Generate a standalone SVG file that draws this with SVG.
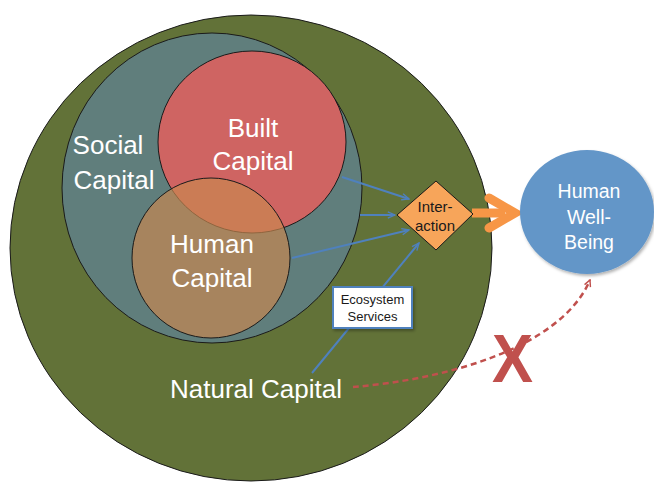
<svg xmlns="http://www.w3.org/2000/svg" width="654" height="483" viewBox="0 0 654 483">
<defs>
<style>
.cap{fill:#ffffff;font-family:"Liberation Sans",Arial,sans-serif;font-size:26px;text-anchor:middle}
.blue{stroke:#4f81bd;stroke-width:2;fill:none;marker-end:url(#ab)}
.small{fill:#1a1a1a;font-family:"Liberation Sans",Arial,sans-serif;text-anchor:middle}
.wb{fill:#ffffff;font-family:"Liberation Sans",Arial,sans-serif;font-size:19.5px;text-anchor:middle}
</style>
<marker id="ab" viewBox="0 0 10 10" refX="9" refY="5" markerWidth="9" markerHeight="9" orient="auto" markerUnits="userSpaceOnUse">
<path d="M1,1.5 L9,5 L1,8.5" fill="none" stroke="#4f81bd" stroke-width="1.5"/>
</marker>
<marker id="ar" viewBox="0 0 10 10" refX="9" refY="5" markerWidth="8" markerHeight="8" orient="auto" markerUnits="userSpaceOnUse">
<path d="M1,1 L9,5 L1,9" fill="none" stroke="#c0504d" stroke-width="1.8"/>
</marker>
<filter id="sh" x="-20%" y="-20%" width="140%" height="140%">
<feDropShadow dx="1.5" dy="2" stdDeviation="1.5" flood-color="#000" flood-opacity="0.3"/>
</filter>
</defs>
<g id="natural-capital">
<ellipse cx="251" cy="248" rx="241" ry="233" fill="#627238" stroke="#1a1a1a" stroke-width="1"/>
</g>
<g id="social-capital">
<ellipse cx="212" cy="188" rx="150" ry="155" fill="#607e7c" stroke="#1a1a1a" stroke-width="1"/>
<text class="cap" x="108" y="154">Social</text>
<text class="cap" x="114" y="189">Capital</text>
</g>
<g id="built-capital">
<ellipse cx="252" cy="142" rx="94" ry="91" fill="#cf6462" stroke="#1a1a1a" stroke-width="1"/>
<text class="cap" x="253" y="137">Built</text>
<text class="cap" x="253" y="170">Capital</text>
</g>
<g id="human-capital">
<ellipse cx="211" cy="258" rx="79" ry="80" fill="#c88750" fill-opacity="0.68" stroke="#1a1a1a" stroke-width="1"/>
<text class="cap" x="212" y="253">Human</text>
<text class="cap" x="212" y="287">Capital</text>
</g>
<g id="connectors">
<line class="blue" x1="342" y1="177" x2="409" y2="199"/>
<line class="blue" x1="360" y1="215" x2="395" y2="215"/>
<line class="blue" x1="292" y1="258" x2="409" y2="230"/>
<line class="blue" x1="312" y1="373" x2="419" y2="243"/>
<line x1="472" y1="213" x2="505" y2="213" stroke="#f79646" stroke-width="9"/>
<polyline points="489,198 515,213 489,228" fill="none" stroke="#f79646" stroke-width="9" stroke-linecap="round" stroke-linejoin="miter"/>
<path d="M353,387 C440,380 560,350 590,280" fill="none" stroke="#c0504d" stroke-width="2.5" stroke-dasharray="6,4" marker-end="url(#ar)"/>
</g>
<g id="interaction">
<polygon points="397,215 436,181 473,214 436,250" fill="#f7a55a" stroke="#1a1a1a" stroke-width="1"/>
<text class="small" x="435" y="212" font-size="15">Inter-</text>
<text class="small" x="435" y="231" font-size="15">action</text>
</g>
<g id="ecosystem-services">
<rect x="333" y="287" width="79" height="41" fill="#ffffff" stroke="#4f81bd" stroke-width="2" filter="url(#sh)"/>
<text class="small" x="372.5" y="304" font-size="13">Ecosystem</text>
<text class="small" x="372.5" y="321" font-size="13">Services</text>
</g>
<g id="human-well-being">
<ellipse cx="587" cy="212" rx="67" ry="62" fill="#6496c8" filter="url(#sh)"/>
<text class="wb" x="589" y="198">Human</text>
<text class="wb" x="589" y="224">Well-</text>
<text class="wb" x="589" y="249">Being</text>
</g>
<g id="natural-capital-label">
<text class="cap" x="256" y="398">Natural Capital</text>
</g>
<g id="no-link">
<text x="492" y="382" fill="#c0504d" font-family="'Liberation Sans',Arial,sans-serif" font-weight="bold" font-size="68" textLength="41" lengthAdjust="spacingAndGlyphs">X</text>
</g>
</svg>
